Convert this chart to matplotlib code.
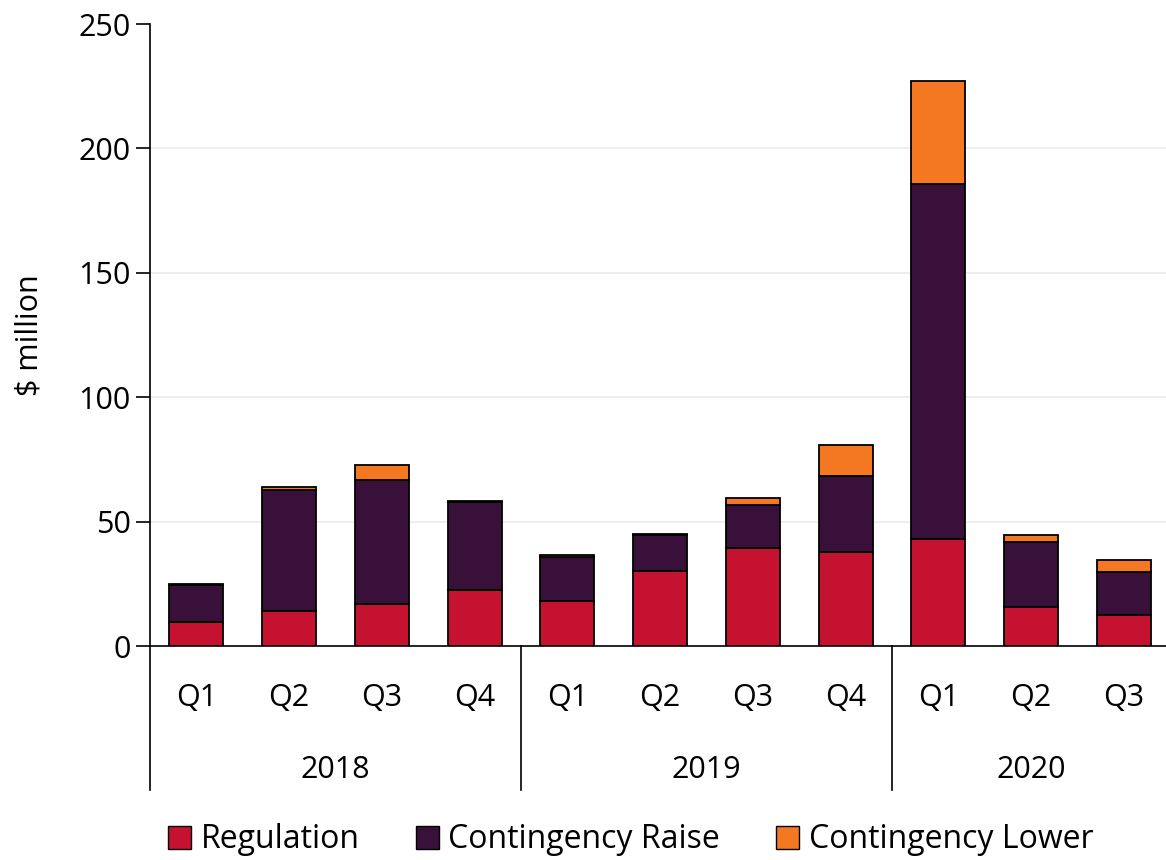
import matplotlib
matplotlib.use("Agg")
import matplotlib.pyplot as plt
import matplotlib.transforms as mtransforms
from matplotlib.patches import Patch
import numpy as np

plt.rcParams['font.family'] = ['Open Sans', 'DejaVu Sans']

years = ["2018", "2019", "2020"]
quarters = ["Q1", "Q2", "Q3", "Q4", "Q1", "Q2", "Q3", "Q4", "Q1", "Q2", "Q3"]
quarters_per_year = [4, 4, 3]
regulation = [9.6, 14.0, 17.0, 22.5, 18.1, 30.3, 39.4, 37.9, 43.0, 15.6, 12.5]
cont_raise = [14.9, 48.7, 49.6, 35.3, 17.8, 14.3, 17.1, 30.4, 142.5, 26.3, 17.2]
cont_lower = [0.5, 1.3, 6.1, 0.4, 0.5, 0.4, 3.0, 12.6, 41.5, 2.6, 4.9]

colors = {"Regulation": "#C41230", "Contingency Raise": "#38103A", "Contingency Lower": "#F47721"}

FS = 22

fig = plt.figure(figsize=(11.66, 8.6), dpi=100)
ax = fig.add_axes([150/1166, 1-646/860, 1-150/1166, (646-24)/860])

x = np.arange(len(quarters))
w = 0.58
reg = np.array(regulation)
rai = np.array(cont_raise)
low = np.array(cont_lower)
ax.bar(x, reg, w, color=colors["Regulation"], edgecolor="black", linewidth=1.3, zorder=3)
ax.bar(x, rai, w, bottom=reg, color=colors["Contingency Raise"], edgecolor="black", linewidth=1.3, zorder=3)
ax.bar(x, low, w, bottom=reg + rai, color=colors["Contingency Lower"], edgecolor="black", linewidth=1.3, zorder=3)

ax.set_xlim(-0.5, len(quarters) - 0.546)
ax.set_ylim(0, 250)
ax.set_yticks([0, 50, 100, 150, 200, 250])
ax.tick_params(axis='y', labelsize=FS, length=10, width=1.2, direction='out', pad=4)
ax.set_xticks([])
for yv in [50, 100, 150, 200]:
    ax.axhline(yv, color="#EBEBEB", linewidth=1.2, zorder=1)

for s in ["top", "right"]:
    ax.spines[s].set_visible(False)
ax.spines["left"].set_linewidth(1.2)
ax.spines["bottom"].set_linewidth(1.2)
ax.set_ylabel("$ million", fontsize=FS, labelpad=24)

trans = mtransforms.blended_transform_factory(ax.transData, ax.transAxes)
sep_bottom = -(790 - 646) / 622
for i, q in enumerate(quarters):
    ax.text(i, -(698 - 646) / 622, q, transform=trans, ha="center", va="center", fontsize=FS)
start = 0
bounds = [-0.5]
for y, n in zip(years, quarters_per_year):
    center = start + (n - 1) / 2
    ax.text(center, -(770 - 646) / 622, y, transform=trans, ha="center", va="center", fontsize=FS)
    start += n
    bounds.append(start - 0.5)
for b in bounds[:-1]:
    ax.plot([b, b], [0, sep_bottom], transform=trans, color="black", linewidth=1.2, clip_on=False)

handles = [Patch(facecolor=c, edgecolor="black", label=k) for k, c in colors.items()]
fig.legend(handles=handles, loc="center", bbox_to_anchor=(0.541, 1 - 840/860), ncol=3,
           frameon=False, fontsize=23, handlelength=0.72, handleheight=0.72,
           handletextpad=0.3, columnspacing=1.75)

fig.savefig("out.png", dpi=100)
